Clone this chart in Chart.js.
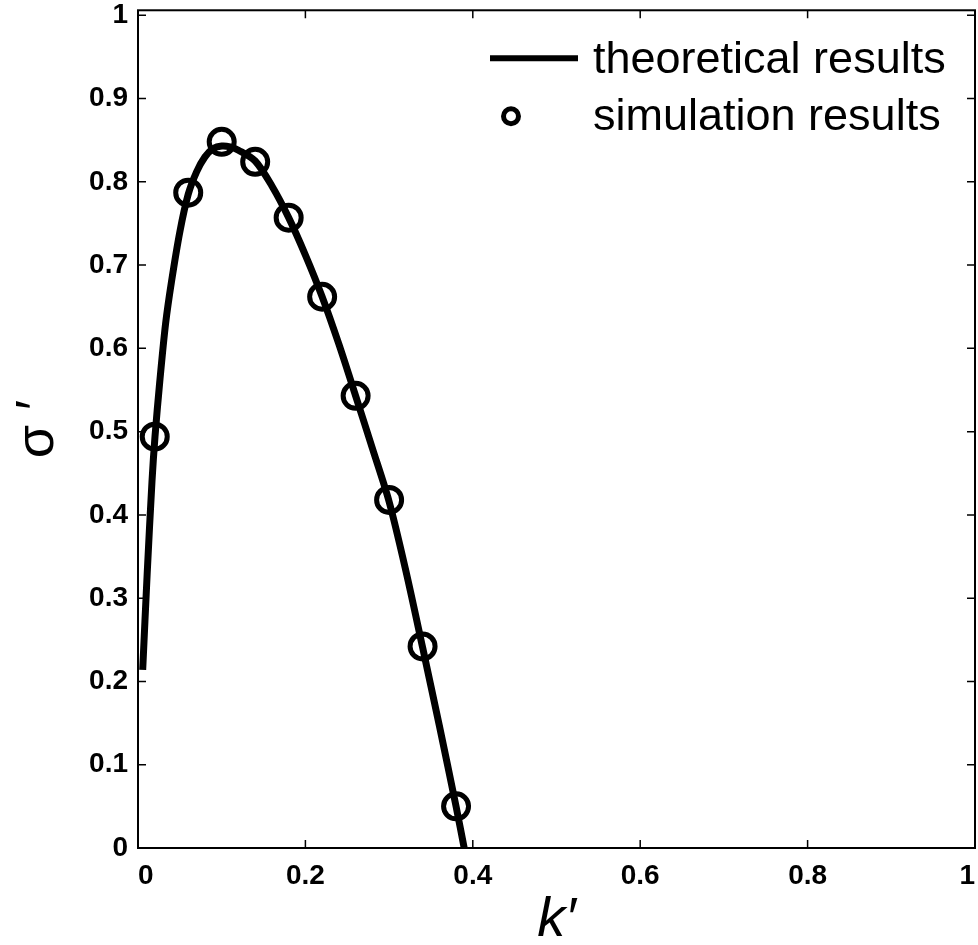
<!DOCTYPE html>
<html>
<head>
<meta charset="utf-8">
<script src="https://cdn.jsdelivr.net/npm/chart.js@4"></script>
<style>
  html, body { margin: 0; padding: 0; background: #fff; overflow: hidden; }
</style>
</head>
<body>
<canvas id="sigma" width="978" height="945"></canvas>
<script>
// theoretical curve
const theoryK = [0.0056, 0.011, 0.0167, 0.0203, 0.026, 0.033, 0.04, 0.05, 0.06, 0.07, 0.08, 0.09, 0.1, 0.11, 0.12,
  0.14, 0.16, 0.18, 0.2, 0.22, 0.24, 0.26, 0.28, 0.3, 0.32, 0.34, 0.36, 0.38, 0.3897];
const theorySigma = [0.214, 0.33, 0.44, 0.494, 0.56, 0.63, 0.68, 0.74, 0.785, 0.812, 0.83, 0.84, 0.843, 0.842, 0.838,
  0.825, 0.795, 0.757, 0.712, 0.662, 0.605, 0.543, 0.48, 0.416, 0.333, 0.241, 0.147, 0.05, 0];

// simulation points
const simK = [0.02, 0.06, 0.1, 0.14, 0.18, 0.22, 0.26, 0.3, 0.34, 0.38];
const simSigma = [0.494, 0.787, 0.848, 0.824, 0.757, 0.662, 0.543, 0.418, 0.242, 0.05];

const xTicks = [0, 0.2, 0.4, 0.6, 0.8, 1];
const yTicks = [0, 0.1, 0.2, 0.3, 0.4, 0.5, 0.6, 0.7, 0.8, 0.9, 1];

const legendLabels = ['theoretical results', 'simulation results'];

const FONT = '"Liberation Sans", Arial, sans-serif';

const toPoints = (xs, ys) => xs.map((x, i) => ({ x: x, y: ys[i] }));

// box + inward ticks on all four sides, and the legend inside the axes
const boxPlugin = {
  id: 'box',
  afterDraw(chart) {
    const ctx = chart.ctx;
    const ca = chart.chartArea;
    const xs = chart.scales.x, ys = chart.scales.y;
    const tl = 8;
    ctx.save();
    ctx.strokeStyle = '#000';
    ctx.lineWidth = 1.5;
    ctx.beginPath();
    xs.ticks.forEach(t => {
      const px = xs.getPixelForValue(t.value);
      ctx.moveTo(px, ca.bottom); ctx.lineTo(px, ca.bottom - tl);
      ctx.moveTo(px, ca.top); ctx.lineTo(px, ca.top + tl);
    });
    ys.ticks.forEach(t => {
      const py = ys.getPixelForValue(t.value);
      ctx.moveTo(ca.left, py); ctx.lineTo(ca.left + tl, py);
      ctx.moveTo(ca.right, py); ctx.lineTo(ca.right - tl, py);
    });
    ctx.stroke();
    ctx.lineWidth = 2;
    ctx.strokeRect(ca.left, ca.top, ca.right - ca.left, ca.bottom - ca.top);

    // legend
    const lx = ca.right - 485;
    const tx = ca.right - 382;
    ctx.fillStyle = '#000';
    ctx.font = '45px ' + FONT;
    ctx.textBaseline = 'middle';
    ctx.textAlign = 'left';
    ctx.lineWidth = 6;
    ctx.beginPath();
    ctx.moveTo(lx, ca.top + 48);
    ctx.lineTo(lx + 88, ca.top + 48);
    ctx.stroke();
    ctx.fillText(legendLabels[0], tx, ca.top + 50);
    ctx.lineWidth = 5;
    ctx.beginPath();
    ctx.arc(lx + 21, ca.top + 106, 7.5, 0, Math.PI * 2);
    ctx.stroke();
    ctx.fillText(legendLabels[1], tx, ca.top + 107);
    ctx.restore();
  }
};

new Chart(document.getElementById('sigma'), {
  type: 'scatter',
  data: {
    datasets: [{
      label: legendLabels[0],
      data: toPoints(theoryK, theorySigma),
      showLine: true,
      borderColor: '#000',
      borderWidth: 7,
      pointRadius: 0,
      tension: 0.3,
      order: 2
    }, {
      label: legendLabels[1],
      data: toPoints(simK, simSigma),
      showLine: false,
      borderColor: '#000',
      backgroundColor: 'rgba(0,0,0,0)',
      pointRadius: 12.5,
      pointBorderWidth: 5,
      pointStyle: 'circle',
      order: 1
    }]
  },
  options: {
    responsive: false,
    animation: false,
    devicePixelRatio: 1,
    layout: { autoPadding: false, padding: { top: 10, right: 3, left: 0, bottom: 0 } },
    plugins: { legend: { display: false }, tooltip: { enabled: false } },
    scales: {
      x: {
        type: 'linear',
        min: 0,
        max: 1,
        grid: { display: false, drawTicks: false },
        border: { display: false },
        afterBuildTicks: s => { s.ticks = xTicks.map(v => ({ value: v })); },
        afterFit: s => { s.height = 97; },
        ticks: {
          color: '#000',
          padding: 0,
          align: 'inner',
          maxRotation: 0,
          font: { family: FONT, size: 28, weight: 'bold', lineHeight: 2.05 },
          callback: v => String(v)
        },
        title: {
          display: true,
          text: 'k\u2032',
          color: '#000',
          padding: 0,
          font: { family: FONT, size: 56, style: 'italic', lineHeight: 0.86 }
        }
      },
      y: {
        type: 'linear',
        min: 0,
        max: 1.006,
        grid: { display: false, drawTicks: false },
        border: { display: false },
        afterBuildTicks: s => { s.ticks = yTicks.map(v => ({ value: v })); },
        afterFit: s => { s.width = 138; },
        ticks: {
          color: '#000',
          padding: 10,
          font: { family: FONT, size: 28, weight: 'bold', lineHeight: 0.02 },
          callback: v => String(v)
        },
        title: {
          display: true,
          text: '\u03c3 \u2032',
          color: '#000',
          padding: { top: 6, bottom: 0 },
          font: { family: FONT, size: 54 }
        }
      }
    }
  },
  plugins: [boxPlugin]
});
</script>
</body>
</html>
